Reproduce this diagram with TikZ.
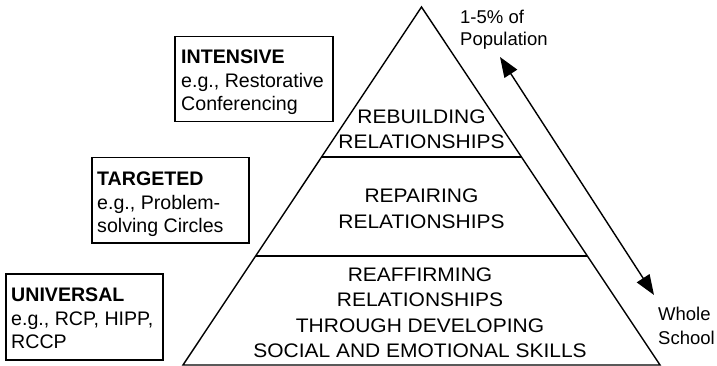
\documentclass[tikz,border=0pt]{standalone}
\usepackage{fontspec}
\setmainfont{Liberation Sans}
\newfontfamily\widefont[FakeStretch=1.07]{Liberation Sans}
\usetikzlibrary{arrows.meta,calc}
\begin{document}
\begin{tikzpicture}[x=1pt,y=-1pt,
  line join=miter,
  boxframe/.style={draw, line width=1.5pt, inner sep=0pt, anchor=north west},
  boxtext/.style={anchor=north west, inner sep=0pt, align=left, font=\fontsize{19.6}{23.5}\selectfont},
  tiertext/.style={anchor=north, inner sep=0pt, align=center, font=\widefont\fontsize{19.6}{25.3}\selectfont},
  sidetext/.style={anchor=north west, inner sep=0pt, align=left},
  pyr/.style={line width=1.4pt},
  dblarrow/.style={line width=1.4pt, {Triangle[length=20pt,width=15pt]}-{Triangle[length=20pt,width=15pt]}}
]
\useasboundingbox (0,0) rectangle (717,366);
% pyramid
\coordinate (A) at (421.5,7);
\coordinate (L) at (183,365);
\coordinate (R) at (660,365);
\draw[pyr] (A) -- (L) -- (R) -- cycle;
\coordinate (L1) at ($(A)!0.419!(L)$);
\coordinate (R1) at ($(A)!0.419!(R)$);
\coordinate (L2) at ($(A)!0.6955!(L)$);
\coordinate (R2) at ($(A)!0.6955!(R)$);
\draw[pyr] (L1) -- (R1);
\draw[pyr] (L2) -- (R2);
% tier texts
\node[tiertext] (t1) at (421.5,109.3) {REBUILDING\\RELATIONSHIPS};
\node[tiertext] (t2) at (421.5,189) {REPAIRING\\RELATIONSHIPS};
\node[tiertext] (t3) at (420,267.7) {REAFFIRMING\\RELATIONSHIPS\\THROUGH DEVELOPING\\SOCIAL AND EMOTIONAL SKILLS};
% boxes
\node[boxframe, minimum width=158pt, minimum height=85pt] (bI) at (174,36) {};
\node[boxtext] (tI) at (181,50) {\textbf{INTENSIVE}\\e.g., Restorative\\Conferencing};
\node[boxframe, minimum width=157pt, minimum height=85pt] (bT) at (91,157) {};
\node[boxtext] (tT) at (97,171.7) {\textbf{TARGETED}\\e.g., Problem-\\solving Circles};
\node[boxframe, minimum width=157pt, minimum height=86pt] (bU) at (5,273) {};
\node[boxtext] (tU) at (11,287.7) {\textbf{UNIVERSAL}\\e.g., RCP, HIPP,\\RCCP};
% side labels
\node[sidetext, font=\fontsize{18.5}{22.3}\selectfont] (top) at (460,9.5) {1-5\% of\\Population};
\node[sidetext, font=\fontsize{18.5}{24.3}\selectfont] (bot) at (658,306.7) {Whole\\School};
% arrow
\coordinate (arrTop) at (500,57);
\coordinate (arrBot) at (654,295);
\draw[dblarrow] (arrTop) -- (arrBot);
\end{tikzpicture}
\end{document}
